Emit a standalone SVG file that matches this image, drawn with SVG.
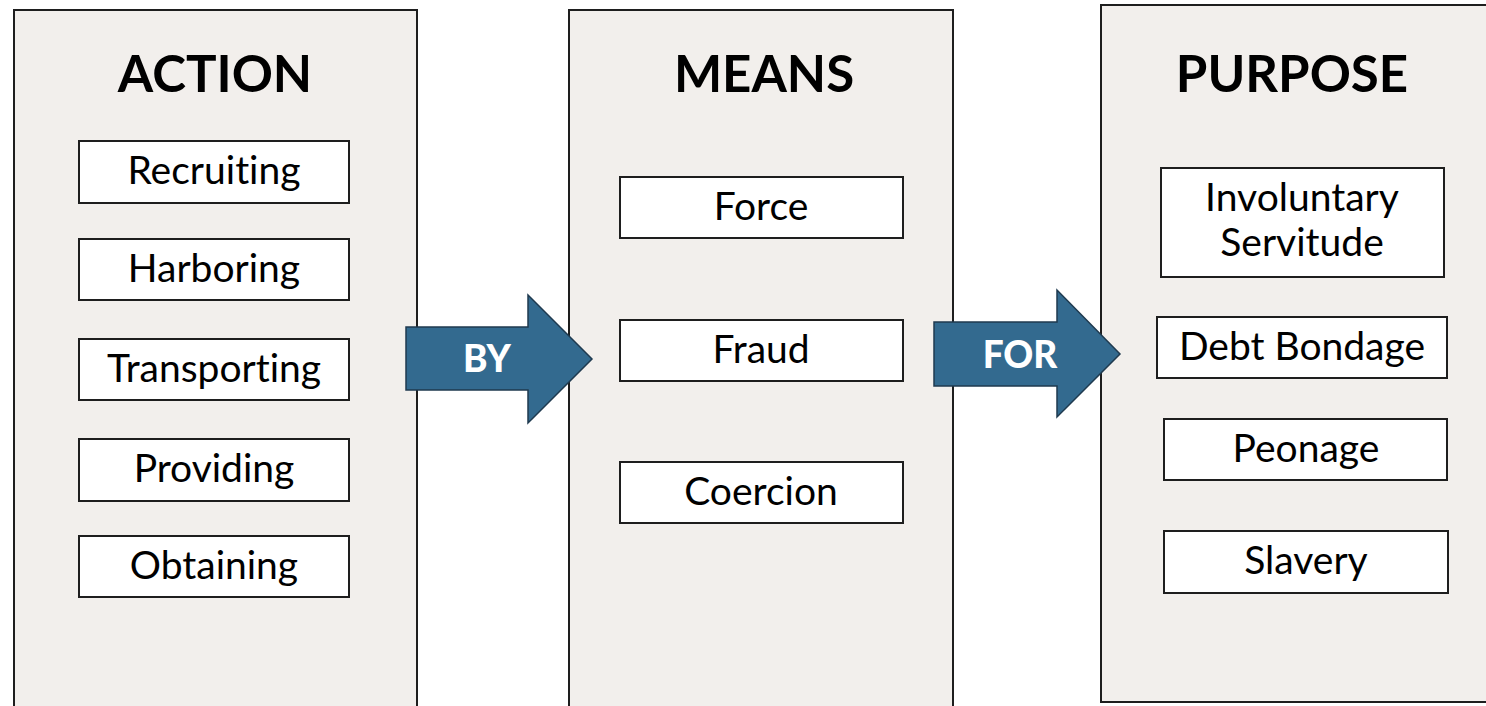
<svg xmlns="http://www.w3.org/2000/svg" width="1486" height="706" viewBox="0 0 1486 706">
<style>
.panel{fill:#f2efec;stroke:#1e1e1e;stroke-width:2}
.box{fill:#ffffff;stroke:#1e1e1e;stroke-width:2}
.title{font-family:Lato,"Liberation Sans",sans-serif;font-weight:bold;font-size:51px;fill:#000;text-anchor:middle}
.lbl{font-family:Lato,"Liberation Sans",sans-serif;font-size:39px;fill:#000;text-anchor:middle;font-variant-ligatures:none}
.arrow{fill:#336a8f;stroke:#1f3a4f;stroke-width:1.5}
.atext{font-family:Lato,"Liberation Sans",sans-serif;font-weight:900;font-size:37px;fill:#ffffff;text-anchor:middle}
</style>
<rect width="1486" height="706" fill="#ffffff"/>
<g id="action">
<rect class="panel" x="14" y="10" width="403" height="710"/>
<text class="title" x="215" y="92">ACTION</text>
</g>
<g id="means">
<rect class="panel" x="569" y="10" width="384" height="710"/>
<text class="title" x="764" y="92">MEANS</text>
</g>
<g id="purpose">
<rect class="panel" x="1101" y="5" width="400" height="697"/>
<text class="title" x="1292" y="92">PURPOSE</text>
</g>
<g id="recruiting"><rect class="box" x="79" y="141" width="270" height="62"/><text class="lbl" x="214" y="184">Recruiting</text></g>
<g id="harboring"><rect class="box" x="79" y="239" width="270" height="61"/><text class="lbl" x="214" y="282">Harboring</text></g>
<g id="transporting"><rect class="box" x="79" y="339" width="270" height="61"/><text class="lbl" x="214" y="382">Transporting</text></g>
<g id="providing"><rect class="box" x="79" y="439" width="270" height="62"/><text class="lbl" x="214" y="482">Providing</text></g>
<g id="obtaining"><rect class="box" x="79" y="536" width="270" height="61"/><text class="lbl" x="214" y="579">Obtaining</text></g>
<g id="force"><rect class="box" x="620" y="177" width="283" height="61"/><text class="lbl" x="761" y="220">Force</text></g>
<g id="fraud"><rect class="box" x="620" y="320" width="283" height="61"/><text class="lbl" x="761" y="363">Fraud</text></g>
<g id="coercion"><rect class="box" x="620" y="462" width="283" height="61"/><text class="lbl" x="761" y="505">Coercion</text></g>
<g id="involuntary-servitude"><rect class="box" x="1161" y="168" width="283" height="109"/><text class="lbl" x="1302" y="211">Involuntary</text><text class="lbl" x="1302" y="256">Servitude</text></g>
<g id="debt-bondage"><rect class="box" x="1157" y="317" width="290" height="61"/><text class="lbl" x="1302" y="360">Debt Bondage</text></g>
<g id="peonage"><rect class="box" x="1164" y="419" width="283" height="61"/><text class="lbl" x="1306" y="462">Peonage</text></g>
<g id="slavery"><rect class="box" x="1164" y="531" width="284" height="62"/><text class="lbl" x="1306" y="574">Slavery</text></g>
<g id="connectors">
<g id="by-arrow"><path class="arrow" d="M406,327 L528,327 L528,295 L592,359 L528,423 L528,390 L406,390 Z"/><text class="atext" x="487" y="372">BY</text></g>
<g id="for-arrow"><path class="arrow" d="M934,322 L1057,322 L1057,290 L1120,354 L1057,417 L1057,386 L934,386 Z"/><text class="atext" x="1020" y="368">FOR</text></g>
</g>
</svg>
